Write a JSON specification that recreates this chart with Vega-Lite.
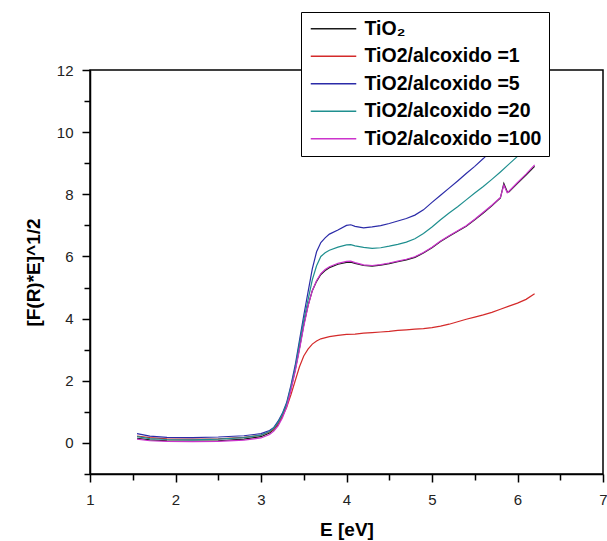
{
  "$schema": "https://vega.github.io/schema/vega-lite/v6.json",
  "autosize": "none",
  "width": 513,
  "height": 404,
  "padding": {"left": 90, "top": 70, "right": 4, "bottom": 67},
  "background": "white",
  "config": {
    "view": {"stroke": "black", "strokeWidth": 1.5},
    "font": "Liberation Sans"
  },
  "data": {
    "values": [
      {"s":"TiO₂","E":1.55,"y":0.15},{"s":"TiO₂","E":1.7,"y":0.1},{"s":"TiO₂","E":1.9,"y":0.07},{"s":"TiO₂","E":2.2,"y":0.06},{"s":"TiO₂","E":2.5,"y":0.07},{"s":"TiO₂","E":2.8,"y":0.12},{"s":"TiO₂","E":3.0,"y":0.2},{"s":"TiO₂","E":3.1,"y":0.32},{"s":"TiO₂","E":3.15,"y":0.43},{"s":"TiO₂","E":3.2,"y":0.6},{"s":"TiO₂","E":3.25,"y":0.86},{"s":"TiO₂","E":3.3,"y":1.22},{"s":"TiO₂","E":3.35,"y":1.75},{"s":"TiO₂","E":3.4,"y":2.35},{"s":"TiO₂","E":3.45,"y":3.05},{"s":"TiO₂","E":3.5,"y":3.8},{"s":"TiO₂","E":3.55,"y":4.42},{"s":"TiO₂","E":3.6,"y":4.9},{"s":"TiO₂","E":3.65,"y":5.2},{"s":"TiO₂","E":3.7,"y":5.42},{"s":"TiO₂","E":3.75,"y":5.55},{"s":"TiO₂","E":3.8,"y":5.64},{"s":"TiO₂","E":3.9,"y":5.75},{"s":"TiO₂","E":4.0,"y":5.81},{"s":"TiO₂","E":4.05,"y":5.82},{"s":"TiO₂","E":4.1,"y":5.78},{"s":"TiO₂","E":4.2,"y":5.71},{"s":"TiO₂","E":4.3,"y":5.69},{"s":"TiO₂","E":4.4,"y":5.72},{"s":"TiO₂","E":4.5,"y":5.77},{"s":"TiO₂","E":4.6,"y":5.83},{"s":"TiO₂","E":4.7,"y":5.89},{"s":"TiO₂","E":4.8,"y":5.97},{"s":"TiO₂","E":4.9,"y":6.11},{"s":"TiO₂","E":5.0,"y":6.28},{"s":"TiO₂","E":5.1,"y":6.48},{"s":"TiO₂","E":5.2,"y":6.65},{"s":"TiO₂","E":5.3,"y":6.81},{"s":"TiO₂","E":5.4,"y":6.97},{"s":"TiO₂","E":5.5,"y":7.18},{"s":"TiO₂","E":5.6,"y":7.4},{"s":"TiO₂","E":5.7,"y":7.63},{"s":"TiO₂","E":5.8,"y":7.88},{"s":"TiO₂","E":5.84,"y":8.35},{"s":"TiO₂","E":5.88,"y":8.08},{"s":"TiO₂","E":5.9,"y":8.08},{"s":"TiO₂","E":6.0,"y":8.35},{"s":"TiO₂","E":6.1,"y":8.62},{"s":"TiO₂","E":6.2,"y":8.9},

      {"s":"TiO2/alcoxido =1","E":1.55,"y":0.22},{"s":"TiO2/alcoxido =1","E":1.7,"y":0.17},{"s":"TiO2/alcoxido =1","E":1.9,"y":0.13},{"s":"TiO2/alcoxido =1","E":2.2,"y":0.12},{"s":"TiO2/alcoxido =1","E":2.5,"y":0.13},{"s":"TiO2/alcoxido =1","E":2.8,"y":0.18},{"s":"TiO2/alcoxido =1","E":3.0,"y":0.25},{"s":"TiO2/alcoxido =1","E":3.1,"y":0.35},{"s":"TiO2/alcoxido =1","E":3.15,"y":0.45},{"s":"TiO2/alcoxido =1","E":3.2,"y":0.62},{"s":"TiO2/alcoxido =1","E":3.25,"y":0.85},{"s":"TiO2/alcoxido =1","E":3.3,"y":1.15},{"s":"TiO2/alcoxido =1","E":3.35,"y":1.55},{"s":"TiO2/alcoxido =1","E":3.4,"y":2.0},{"s":"TiO2/alcoxido =1","E":3.45,"y":2.45},{"s":"TiO2/alcoxido =1","E":3.5,"y":2.8},{"s":"TiO2/alcoxido =1","E":3.55,"y":3.02},{"s":"TiO2/alcoxido =1","E":3.6,"y":3.18},{"s":"TiO2/alcoxido =1","E":3.65,"y":3.28},{"s":"TiO2/alcoxido =1","E":3.7,"y":3.35},{"s":"TiO2/alcoxido =1","E":3.8,"y":3.42},{"s":"TiO2/alcoxido =1","E":3.9,"y":3.46},{"s":"TiO2/alcoxido =1","E":4.0,"y":3.49},{"s":"TiO2/alcoxido =1","E":4.1,"y":3.5},{"s":"TiO2/alcoxido =1","E":4.2,"y":3.53},{"s":"TiO2/alcoxido =1","E":4.3,"y":3.55},{"s":"TiO2/alcoxido =1","E":4.4,"y":3.57},{"s":"TiO2/alcoxido =1","E":4.5,"y":3.59},{"s":"TiO2/alcoxido =1","E":4.6,"y":3.62},{"s":"TiO2/alcoxido =1","E":4.7,"y":3.64},{"s":"TiO2/alcoxido =1","E":4.8,"y":3.66},{"s":"TiO2/alcoxido =1","E":4.9,"y":3.68},{"s":"TiO2/alcoxido =1","E":5.0,"y":3.71},{"s":"TiO2/alcoxido =1","E":5.1,"y":3.76},{"s":"TiO2/alcoxido =1","E":5.2,"y":3.82},{"s":"TiO2/alcoxido =1","E":5.3,"y":3.9},{"s":"TiO2/alcoxido =1","E":5.4,"y":3.98},{"s":"TiO2/alcoxido =1","E":5.5,"y":4.05},{"s":"TiO2/alcoxido =1","E":5.6,"y":4.12},{"s":"TiO2/alcoxido =1","E":5.7,"y":4.2},{"s":"TiO2/alcoxido =1","E":5.8,"y":4.3},{"s":"TiO2/alcoxido =1","E":5.9,"y":4.4},{"s":"TiO2/alcoxido =1","E":6.0,"y":4.5},{"s":"TiO2/alcoxido =1","E":6.1,"y":4.62},{"s":"TiO2/alcoxido =1","E":6.2,"y":4.8},

      {"s":"TiO2/alcoxido =5","E":1.55,"y":0.3},{"s":"TiO2/alcoxido =5","E":1.7,"y":0.22},{"s":"TiO2/alcoxido =5","E":1.9,"y":0.18},{"s":"TiO2/alcoxido =5","E":2.2,"y":0.17},{"s":"TiO2/alcoxido =5","E":2.5,"y":0.19},{"s":"TiO2/alcoxido =5","E":2.8,"y":0.23},{"s":"TiO2/alcoxido =5","E":3.0,"y":0.3},{"s":"TiO2/alcoxido =5","E":3.1,"y":0.4},{"s":"TiO2/alcoxido =5","E":3.15,"y":0.5},{"s":"TiO2/alcoxido =5","E":3.2,"y":0.7},{"s":"TiO2/alcoxido =5","E":3.25,"y":0.95},{"s":"TiO2/alcoxido =5","E":3.3,"y":1.3},{"s":"TiO2/alcoxido =5","E":3.35,"y":1.85},{"s":"TiO2/alcoxido =5","E":3.4,"y":2.5},{"s":"TiO2/alcoxido =5","E":3.45,"y":3.3},{"s":"TiO2/alcoxido =5","E":3.5,"y":4.1},{"s":"TiO2/alcoxido =5","E":3.55,"y":4.85},{"s":"TiO2/alcoxido =5","E":3.6,"y":5.6},{"s":"TiO2/alcoxido =5","E":3.65,"y":6.15},{"s":"TiO2/alcoxido =5","E":3.7,"y":6.45},{"s":"TiO2/alcoxido =5","E":3.75,"y":6.6},{"s":"TiO2/alcoxido =5","E":3.8,"y":6.72},{"s":"TiO2/alcoxido =5","E":3.9,"y":6.85},{"s":"TiO2/alcoxido =5","E":4.0,"y":7.0},{"s":"TiO2/alcoxido =5","E":4.05,"y":7.02},{"s":"TiO2/alcoxido =5","E":4.1,"y":6.97},{"s":"TiO2/alcoxido =5","E":4.2,"y":6.92},{"s":"TiO2/alcoxido =5","E":4.3,"y":6.95},{"s":"TiO2/alcoxido =5","E":4.4,"y":6.99},{"s":"TiO2/alcoxido =5","E":4.5,"y":7.06},{"s":"TiO2/alcoxido =5","E":4.6,"y":7.14},{"s":"TiO2/alcoxido =5","E":4.7,"y":7.22},{"s":"TiO2/alcoxido =5","E":4.8,"y":7.33},{"s":"TiO2/alcoxido =5","E":4.9,"y":7.5},{"s":"TiO2/alcoxido =5","E":5.0,"y":7.74},{"s":"TiO2/alcoxido =5","E":5.1,"y":7.97},{"s":"TiO2/alcoxido =5","E":5.2,"y":8.2},{"s":"TiO2/alcoxido =5","E":5.3,"y":8.43},{"s":"TiO2/alcoxido =5","E":5.4,"y":8.67},{"s":"TiO2/alcoxido =5","E":5.5,"y":8.9},{"s":"TiO2/alcoxido =5","E":5.6,"y":9.15},{"s":"TiO2/alcoxido =5","E":5.7,"y":9.42},{"s":"TiO2/alcoxido =5","E":5.8,"y":9.7},{"s":"TiO2/alcoxido =5","E":5.9,"y":10.0},{"s":"TiO2/alcoxido =5","E":6.0,"y":10.3},{"s":"TiO2/alcoxido =5","E":6.1,"y":10.6},{"s":"TiO2/alcoxido =5","E":6.2,"y":10.9},

      {"s":"TiO2/alcoxido =20","E":1.55,"y":0.2},{"s":"TiO2/alcoxido =20","E":1.7,"y":0.14},{"s":"TiO2/alcoxido =20","E":1.9,"y":0.11},{"s":"TiO2/alcoxido =20","E":2.2,"y":0.1},{"s":"TiO2/alcoxido =20","E":2.5,"y":0.12},{"s":"TiO2/alcoxido =20","E":2.8,"y":0.17},{"s":"TiO2/alcoxido =20","E":3.0,"y":0.25},{"s":"TiO2/alcoxido =20","E":3.1,"y":0.37},{"s":"TiO2/alcoxido =20","E":3.15,"y":0.48},{"s":"TiO2/alcoxido =20","E":3.2,"y":0.66},{"s":"TiO2/alcoxido =20","E":3.25,"y":0.92},{"s":"TiO2/alcoxido =20","E":3.3,"y":1.25},{"s":"TiO2/alcoxido =20","E":3.35,"y":1.8},{"s":"TiO2/alcoxido =20","E":3.4,"y":2.4},{"s":"TiO2/alcoxido =20","E":3.45,"y":3.2},{"s":"TiO2/alcoxido =20","E":3.5,"y":3.95},{"s":"TiO2/alcoxido =20","E":3.55,"y":4.6},{"s":"TiO2/alcoxido =20","E":3.6,"y":5.25},{"s":"TiO2/alcoxido =20","E":3.65,"y":5.7},{"s":"TiO2/alcoxido =20","E":3.7,"y":6.0},{"s":"TiO2/alcoxido =20","E":3.75,"y":6.12},{"s":"TiO2/alcoxido =20","E":3.8,"y":6.2},{"s":"TiO2/alcoxido =20","E":3.9,"y":6.3},{"s":"TiO2/alcoxido =20","E":4.0,"y":6.37},{"s":"TiO2/alcoxido =20","E":4.05,"y":6.38},{"s":"TiO2/alcoxido =20","E":4.1,"y":6.34},{"s":"TiO2/alcoxido =20","E":4.2,"y":6.29},{"s":"TiO2/alcoxido =20","E":4.3,"y":6.26},{"s":"TiO2/alcoxido =20","E":4.4,"y":6.28},{"s":"TiO2/alcoxido =20","E":4.5,"y":6.33},{"s":"TiO2/alcoxido =20","E":4.6,"y":6.39},{"s":"TiO2/alcoxido =20","E":4.7,"y":6.46},{"s":"TiO2/alcoxido =20","E":4.8,"y":6.57},{"s":"TiO2/alcoxido =20","E":4.9,"y":6.74},{"s":"TiO2/alcoxido =20","E":5.0,"y":6.95},{"s":"TiO2/alcoxido =20","E":5.1,"y":7.18},{"s":"TiO2/alcoxido =20","E":5.2,"y":7.4},{"s":"TiO2/alcoxido =20","E":5.3,"y":7.6},{"s":"TiO2/alcoxido =20","E":5.4,"y":7.82},{"s":"TiO2/alcoxido =20","E":5.5,"y":8.04},{"s":"TiO2/alcoxido =20","E":5.6,"y":8.25},{"s":"TiO2/alcoxido =20","E":5.7,"y":8.48},{"s":"TiO2/alcoxido =20","E":5.8,"y":8.72},{"s":"TiO2/alcoxido =20","E":5.9,"y":8.97},{"s":"TiO2/alcoxido =20","E":6.0,"y":9.22},{"s":"TiO2/alcoxido =20","E":6.1,"y":9.46},{"s":"TiO2/alcoxido =20","E":6.2,"y":9.7},

      {"s":"TiO2/alcoxido =100","E":1.55,"y":0.12},{"s":"TiO2/alcoxido =100","E":1.7,"y":0.07},{"s":"TiO2/alcoxido =100","E":1.9,"y":0.05},{"s":"TiO2/alcoxido =100","E":2.2,"y":0.04},{"s":"TiO2/alcoxido =100","E":2.5,"y":0.05},{"s":"TiO2/alcoxido =100","E":2.8,"y":0.09},{"s":"TiO2/alcoxido =100","E":3.0,"y":0.16},{"s":"TiO2/alcoxido =100","E":3.1,"y":0.27},{"s":"TiO2/alcoxido =100","E":3.15,"y":0.38},{"s":"TiO2/alcoxido =100","E":3.2,"y":0.55},{"s":"TiO2/alcoxido =100","E":3.25,"y":0.8},{"s":"TiO2/alcoxido =100","E":3.3,"y":1.15},{"s":"TiO2/alcoxido =100","E":3.35,"y":1.7},{"s":"TiO2/alcoxido =100","E":3.4,"y":2.3},{"s":"TiO2/alcoxido =100","E":3.45,"y":3.0},{"s":"TiO2/alcoxido =100","E":3.5,"y":3.75},{"s":"TiO2/alcoxido =100","E":3.55,"y":4.4},{"s":"TiO2/alcoxido =100","E":3.6,"y":4.9},{"s":"TiO2/alcoxido =100","E":3.65,"y":5.22},{"s":"TiO2/alcoxido =100","E":3.7,"y":5.45},{"s":"TiO2/alcoxido =100","E":3.75,"y":5.58},{"s":"TiO2/alcoxido =100","E":3.8,"y":5.67},{"s":"TiO2/alcoxido =100","E":3.9,"y":5.78},{"s":"TiO2/alcoxido =100","E":4.0,"y":5.84},{"s":"TiO2/alcoxido =100","E":4.05,"y":5.85},{"s":"TiO2/alcoxido =100","E":4.1,"y":5.8},{"s":"TiO2/alcoxido =100","E":4.2,"y":5.73},{"s":"TiO2/alcoxido =100","E":4.3,"y":5.71},{"s":"TiO2/alcoxido =100","E":4.4,"y":5.74},{"s":"TiO2/alcoxido =100","E":4.5,"y":5.79},{"s":"TiO2/alcoxido =100","E":4.6,"y":5.85},{"s":"TiO2/alcoxido =100","E":4.7,"y":5.91},{"s":"TiO2/alcoxido =100","E":4.8,"y":5.99},{"s":"TiO2/alcoxido =100","E":4.9,"y":6.13},{"s":"TiO2/alcoxido =100","E":5.0,"y":6.3},{"s":"TiO2/alcoxido =100","E":5.1,"y":6.5},{"s":"TiO2/alcoxido =100","E":5.2,"y":6.67},{"s":"TiO2/alcoxido =100","E":5.3,"y":6.83},{"s":"TiO2/alcoxido =100","E":5.4,"y":6.99},{"s":"TiO2/alcoxido =100","E":5.5,"y":7.2},{"s":"TiO2/alcoxido =100","E":5.6,"y":7.42},{"s":"TiO2/alcoxido =100","E":5.7,"y":7.65},{"s":"TiO2/alcoxido =100","E":5.8,"y":7.9},{"s":"TiO2/alcoxido =100","E":5.84,"y":8.3},{"s":"TiO2/alcoxido =100","E":5.88,"y":8.05},{"s":"TiO2/alcoxido =100","E":5.9,"y":8.1},{"s":"TiO2/alcoxido =100","E":6.0,"y":8.38},{"s":"TiO2/alcoxido =100","E":6.1,"y":8.65},{"s":"TiO2/alcoxido =100","E":6.2,"y":8.95}
    ]
  },
  "mark": {"type": "line", "strokeWidth": 1.2},
  "encoding": {
    "x": {
      "field": "E", "type": "quantitative",
      "scale": {"domain": [1, 7], "nice": false, "zero": false},
      "axis": {
        "title": "E [eV]",
        "values": [1, 1.5, 2, 2.5, 3, 3.5, 4, 4.5, 5, 5.5, 6, 6.5, 7],
        "labelExpr": "datum.value % 1 === 0 ? format(datum.value, 'd') : ''",
        "tickSize": {"condition": {"test": "datum.value % 1 === 0", "value": 8}, "value": 6},
        "grid": false,
        "domainColor": "black", "domainWidth": 1.5,
        "tickColor": "black", "tickWidth": 1.5,
        "labelFont": "Liberation Sans", "labelFontSize": 15, "labelColor": "#222",
        "labelPadding": 10, "labelFlush": false, "labelOverlap": false, "labelBound": false,
        "titleFont": "Liberation Sans", "titleFontSize": 19, "titleFontWeight": "bold", "titleColor": "black",
        "titlePadding": 13
      }
    },
    "y": {
      "field": "y", "type": "quantitative",
      "scale": {"domain": [-1, 12], "nice": false, "zero": false},
      "axis": {
        "title": "[F(R)*E]^1/2",
        "values": [-1, 0, 1, 2, 3, 4, 5, 6, 7, 8, 9, 10, 11, 12],
        "labelExpr": "datum.value >= 0 && datum.value % 2 === 0 ? format(datum.value, 'd') : ''",
        "tickSize": {"condition": {"test": "datum.value % 2 === 0", "value": 8}, "value": 6},
        "grid": false,
        "domainColor": "black", "domainWidth": 1.5,
        "tickColor": "black", "tickWidth": 1.5,
        "labelFont": "Liberation Sans", "labelFontSize": 15, "labelColor": "#222",
        "labelPadding": 9, "labelFlush": false, "labelOverlap": false, "labelBound": false,
        "titleFont": "Liberation Sans", "titleFontSize": 19, "titleFontWeight": "bold", "titleColor": "black",
        "titlePadding": 13
      }
    },
    "color": {
      "field": "s", "type": "nominal",
      "scale": {
        "domain": ["TiO₂", "TiO2/alcoxido =1", "TiO2/alcoxido =5", "TiO2/alcoxido =20", "TiO2/alcoxido =100"],
        "range": ["#1a1a1a", "#d42a2a", "#2b2ba8", "#1f8f8f", "#cc33cc"]
      },
      "legend": {
        "title": null,
        "orient": "none",
        "legendX": 211,
        "legendY": -58,
        "fillColor": "white",
        "strokeColor": "black",
        "padding": 7,
        "symbolType": "M-1,0H5.5",
        "symbolSize": 196,
        "symbolStrokeWidth": 1.5,
        "labelFont": "Liberation Sans",
        "labelFontSize": 19.5,
        "labelFontWeight": "bold",
        "labelColor": "black",
        "labelOffset": 37,
        "labelLimit": 400,
        "rowPadding": 6.5
      }
    }
  }
}
